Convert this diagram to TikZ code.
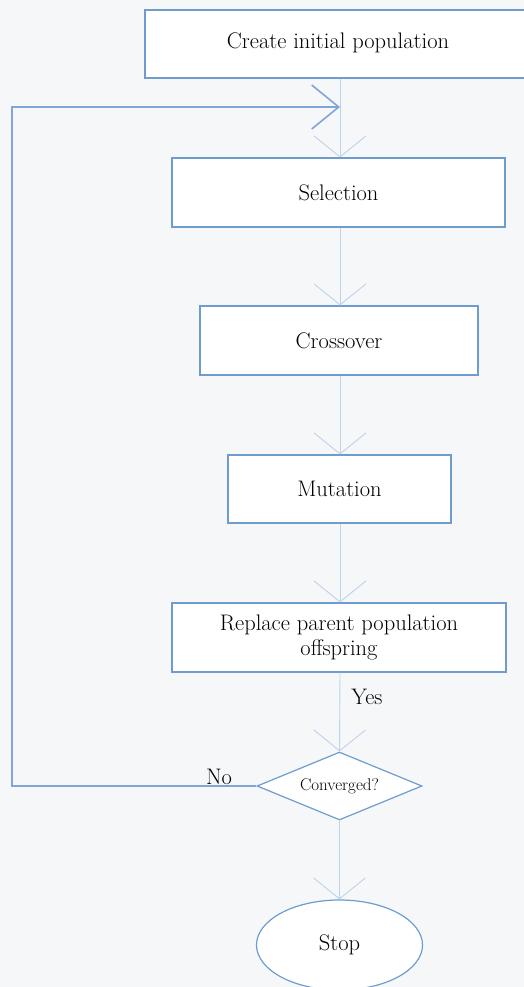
\documentclass[tikz,border=0pt]{standalone}
\usetikzlibrary{arrows.meta,shapes.geometric}
\definecolor{boxblue}{HTML}{6E9CCF}
\definecolor{lineblue}{HTML}{BDD3EC}
\definecolor{loopblue}{HTML}{7FA6D6}
\definecolor{bgcol}{HTML}{F6F7F9}
\tikzset{
  stepbox/.style={draw=boxblue, line width=1.1pt, fill=white, inner sep=0pt, font=\fontsize{22.5}{24.5}\selectfont, align=center},
  flow/.style={draw=lineblue, line width=0.9pt, -{Straight Barb[length=21pt,width=52pt,line width=0.9pt]}},
  loop/.style={draw=loopblue, line width=1.1pt},
  lbl/.style={font=\fontsize{22.5}{24}\selectfont, inner sep=0pt}
}
\begin{document}
\begin{tikzpicture}[x=1pt,y=-1pt]
\fill[bgcol] (0,0) rectangle (524,987);
\useasboundingbox (0,0) rectangle (524,987);
\begin{scope}
\clip (0,0) rectangle (524,987);
\node[stepbox, minimum width=385pt, minimum height=68pt] (init) at (337.5,44) {};
\node[font=\fontsize{22.5}{24.5}\selectfont] (inittxt) at (338,43) {Create initial population};
\node[stepbox, minimum width=333pt, minimum height=69pt] (sel) at (338.5,192.5) {Selection};
\node[stepbox, minimum width=278pt, minimum height=69pt] (cro) at (339,340.5) {Crossover};
\node[stepbox, minimum width=223pt, minimum height=68pt] (mut) at (339.5,489) {Mutation};
\node[stepbox, minimum width=334pt, minimum height=69pt] (rep) at (339,637.5) {Replace parent population\\offspring};
\node[diamond, draw=boxblue, line width=1.2pt, fill=white, aspect=2.43, minimum width=165pt, minimum height=68pt, inner sep=0pt, font=\fontsize{17}{19}\selectfont] (dia) at (339.5,786) {Converged?};
\node[ellipse, draw=boxblue, line width=1.2pt, fill=white, minimum width=166pt, minimum height=90pt, inner sep=0pt, font=\fontsize{22.5}{24.5}\selectfont] (stop) at (339.5,945) {Stop};
\coordinate (join) at (340,107);
\coordinate (cornerA) at (12,786);
\coordinate (cornerB) at (12,107);
\draw[flow] (init.south -| join) -- (sel.north -| join);
\draw[flow] (sel.south -| join) -- (cro.north -| join);
\draw[flow] (cro.south -| join) -- (mut.north -| join);
\draw[flow] (mut.south -| join) -- (rep.north -| join);
\draw[flow] (rep.south -| join) -- (dia.north);
\draw[flow] (dia.south) -- (stop.north);
\draw[loop, -{Straight Barb[length=27pt,width=44pt,line width=1.6pt]}] (dia.west) -- (cornerA) -- (cornerB) -- (join);
\node[lbl] (yes) at (367,697) {Yes};
\node[lbl] (no) at (219,777) {No};
\end{scope}
\end{tikzpicture}
\end{document}
